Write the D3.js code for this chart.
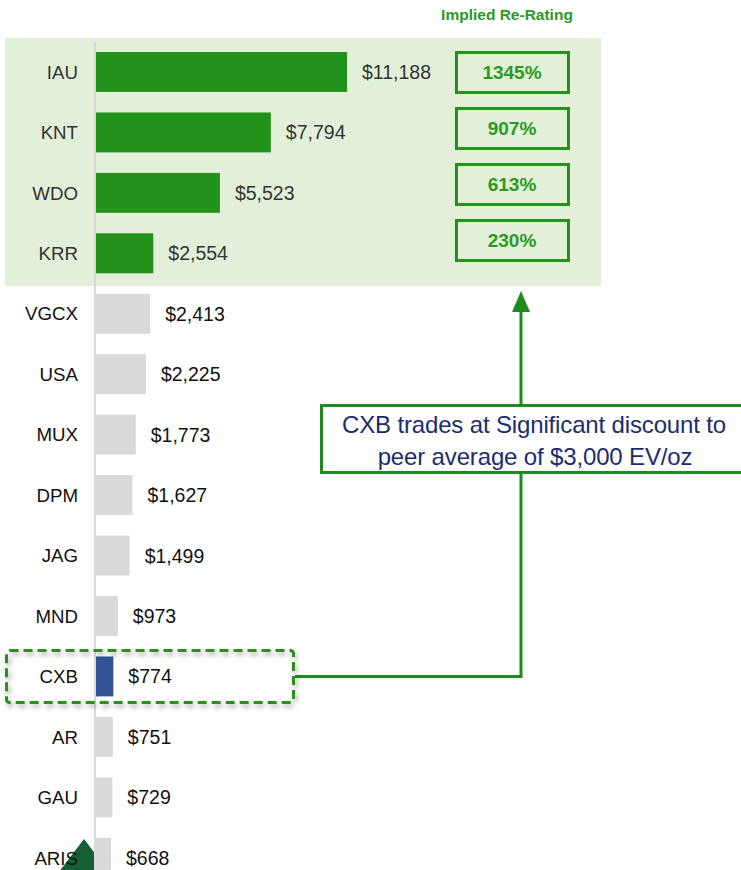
<!DOCTYPE html>
<html>
<head>
<meta charset="utf-8">
<script src="https://cdn.jsdelivr.net/npm/d3@7"></script>
<style>
  body { margin: 0; background: #fff; }
  svg { display: block; font-family: "Liberation Sans", Arial, sans-serif; }
</style>
</head>
<body>
<svg id="chart" width="741" height="870"></svg>
<script>
// EV per ounce by company
var tickers = ["IAU", "KNT", "WDO", "KRR", "VGCX", "USA", "MUX", "DPM", "JAG", "MND", "CXB", "AR", "GAU", "ARIS"];
var evPerOz = [11188, 7794, 5523, 2554, 2413, 2225, 1773, 1627, 1499, 973, 774, 751, 729, 668];
// implied re-rating for the top four
var rerateTickers = ["IAU", "KNT", "WDO", "KRR"];
var rerating = [1345, 907, 613, 230];

var data = tickers.map(function (t, i) { return { name: t, value: evPerOz[i] }; });

var green = "#23921a", navy = "#1b2d6e", lineGreen = "#1f8a1f";

var svg = d3.select("#chart");

var defs = svg.append("defs");
var f = defs.append("filter").attr("id", "shadow")
  .attr("x", "-10%").attr("y", "-30%").attr("width", "120%").attr("height", "170%");
f.append("feDropShadow").attr("dx", 2).attr("dy", 3).attr("stdDeviation", 2.5)
  .attr("flood-color", "#000").attr("flood-opacity", 0.35);

var x = d3.scaleLinear().domain([0, 11188]).range([96, 347]);
var y = d3.scaleBand().domain(tickers).range([41.75, 888]).paddingInner(0.34).paddingOuter(0.17);

// highlighted region for the top peers
svg.append("rect")
  .attr("x", 5).attr("y", 38).attr("width", 596).attr("height", 248)
  .attr("fill", "#e2f0d9");

// dark green marker at the bottom
svg.append("polygon")
  .attr("points", "84,839 52,881 116,881")
  .attr("fill", "#145f35");

// axis line
svg.append("line")
  .attr("x1", 95).attr("x2", 95).attr("y1", 42).attr("y2", 870)
  .attr("stroke", "#d9d9d9").attr("stroke-width", 2);

function barColor(d, i) {
  if (i < 4) return green;
  if (d.name === "CXB") return "#2f5597";
  return "#d9d9d9";
}

svg.selectAll("rect.bar")
  .data(data)
  .enter()
  .append("rect")
    .attr("class", "bar")
    .attr("x", x(0))
    .attr("y", function (d) { return y(d.name); })
    .attr("width", function (d) { return x(d.value) - x(0); })
    .attr("height", y.bandwidth())
    .attr("fill", barColor);

svg.selectAll("text.cat")
  .data(data)
  .enter()
  .append("text")
    .attr("class", "cat")
    .attr("x", 78)
    .attr("y", function (d) { return y(d.name) + y.bandwidth() / 2; })
    .attr("dy", "0.36em")
    .attr("text-anchor", "end")
    .attr("font-size", 18.7)
    .attr("fill", function (d, i) { return i < 4 ? "#333" : "#111"; })
    .text(function (d) { return d.name; });

svg.selectAll("text.val")
  .data(data)
  .enter()
  .append("text")
    .attr("class", "val")
    .attr("x", function (d) { return x(d.value) + 15; })
    .attr("y", function (d) { return y(d.name) + y.bandwidth() / 2; })
    .attr("dy", "0.36em")
    .attr("font-size", 19.5)
    .attr("fill", function (d, i) { return i < 4 ? "#333" : "#111"; })
    .text(function (d) { return "$" + d3.format(",")(d.value); });

// implied re-rating boxes
svg.append("text")
  .attr("x", 507).attr("y", 20)
  .attr("text-anchor", "middle")
  .attr("font-size", 15.5).attr("font-weight", "bold")
  .attr("fill", "#2a9a22")
  .text("Implied Re-Rating");

var yb = d3.scaleBand().domain(rerateTickers).range([44.5, 268.5]).paddingInner(0.232).paddingOuter(0.116);

var boxes = svg.selectAll("g.rr")
  .data(rerating)
  .enter()
  .append("g")
    .attr("class", "rr")
    .attr("transform", function (d, i) { return "translate(0," + yb(rerateTickers[i]) + ")"; });

boxes.append("rect")
  .attr("x", 456.5).attr("y", 1.5)
  .attr("width", 112).attr("height", yb.bandwidth() - 3)
  .attr("fill", "none")
  .attr("stroke", green).attr("stroke-width", 3);

boxes.append("text")
  .attr("x", 512).attr("y", yb.bandwidth() / 2)
  .attr("dy", "0.36em")
  .attr("text-anchor", "middle")
  .attr("font-size", 19).attr("font-weight", "bold")
  .attr("fill", "#2a9a22")
  .text(function (d) { return d + "%"; });

// connector from CXB to the highlighted peers
var cxbMid = y("CXB") + y.bandwidth() / 2;
svg.append("path")
  .attr("d", "M521,310 V" + cxbMid + " H295")
  .attr("fill", "none")
  .attr("stroke", lineGreen).attr("stroke-width", 3);
svg.append("polygon")
  .attr("points", "521,291 512,312 530,312")
  .attr("fill", lineGreen);

// callout
svg.append("rect")
  .attr("x", 321.5).attr("y", 405.5).attr("width", 440).attr("height", 67)
  .attr("fill", "#fff")
  .attr("stroke", lineGreen).attr("stroke-width", 3);

var callout = svg.append("text")
  .attr("text-anchor", "middle")
  .attr("font-size", 24)
  .attr("letter-spacing", "-0.15px")
  .attr("fill", navy);
callout.append("tspan").attr("x", 534).attr("y", 433).text("CXB trades at Significant discount to");
callout.append("tspan").attr("x", 535).attr("y", 465).text("peer average of $3,000 EV/oz");

// dashed highlight round CXB
svg.append("rect")
  .attr("x", 6.5).attr("y", 650.5).attr("width", 287).attr("height", 52).attr("rx", 3)
  .attr("fill", "none")
  .attr("stroke", "#2a8f1f").attr("stroke-width", 3)
  .attr("stroke-dasharray", "9,5")
  .attr("filter", "url(#shadow)");
</script>
</body>
</html>
